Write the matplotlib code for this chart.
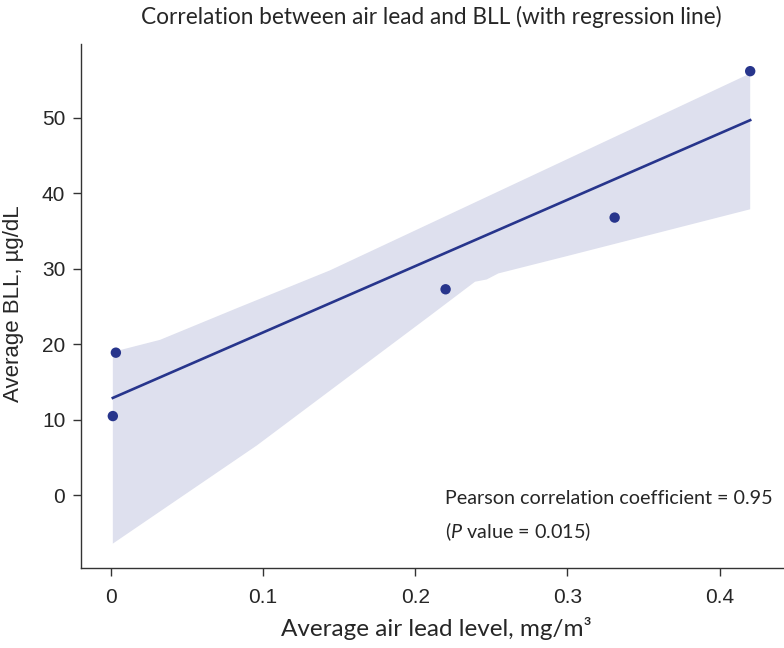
import numpy as np
import matplotlib
matplotlib.use("Agg")
import matplotlib.pyplot as plt

# ================= DATA =================
air_lead = [0.0015, 0.0035, 0.220, 0.331, 0.420]   # mg/m3
bll = [10.5, 18.9, 27.3, 36.8, 56.2]               # ug/dL

# confidence band edges
band_hi_x = [0.0015, 0.0325, 0.083, 0.144, 0.420]
band_hi_y = [19.0, 20.6, 24.8, 29.8, 55.9]
band_lo_x = [0.0015, 0.096, 0.2098, 0.2393, 0.247, 0.2546, 0.3017, 0.420]
band_lo_y = [-6.4, 6.6, 23.8, 28.3, 28.6, 29.4, 31.8, 37.9]

x_ticks = [0, 0.1, 0.2, 0.3, 0.4]
x_tick_labels = ["0", "0.1", "0.2", "0.3", "0.4"]
y_ticks = [0, 10, 20, 30, 40, 50]

# ================= STYLE =================
NAVY = "#27358c"
BAND = "#dee0ee"
TEXT = "#262626"
SPINE = "#333333"
LABEL_FONT = "Lato"
TICK_FONT = "Liberation Sans"

plt.rcParams["mathtext.fontset"] = "custom"
plt.rcParams["mathtext.rm"] = "Lato"
plt.rcParams["mathtext.it"] = "Lato:italic"

fig = plt.figure(figsize=(7.84, 6.48), dpi=100)
ax = fig.add_axes([0.1037, 0.1230, 0.8963, 0.8091])

# band polygon: upper edge left->right, lower edge right->left
poly_x = list(band_hi_x) + list(band_lo_x[::-1])
poly_y = list(band_hi_y) + list(band_lo_y[::-1])
ax.fill(poly_x, poly_y, color=BAND, linewidth=0, zorder=1)

# regression line across the data range
slope, intercept = np.polyfit(air_lead, bll, 1)
xs = np.array([min(air_lead), max(air_lead)])
ax.plot(xs, slope * xs + intercept, color=NAVY, linewidth=1.9, zorder=2)

ax.scatter(air_lead, bll, s=56, color=NAVY, edgecolors="none", zorder=3)

ax.set_xlim(-0.0192, 0.4422)
ax.set_ylim(-9.67, 59.8)

for side in ["top", "right"]:
    ax.spines[side].set_visible(False)
for side in ["left", "bottom"]:
    ax.spines[side].set_color(SPINE)
    ax.spines[side].set_linewidth(1.0)

ax.set_xticks(x_ticks)
ax.set_xticklabels(x_tick_labels)
ax.set_yticks(y_ticks)
ax.tick_params(axis="both", length=5.5, width=1.0, color=SPINE,
               labelsize=15, labelcolor=TEXT)
ax.tick_params(axis="x", pad=9)
ax.tick_params(axis="y", pad=6)
for lbl in ax.get_xticklabels() + ax.get_yticklabels():
    lbl.set_family(TICK_FONT)

fig.text(431 / 784, 1 - 17 / 648,
         "Correlation between air lead and BLL (with regression line)",
         ha="center", va="center", fontsize=16.3, family=LABEL_FONT, color=TEXT)
fig.text(436 / 784, 1 - 629 / 648, "Average air lead level, mg/m³",
         ha="center", va="center", fontsize=17.5, family=LABEL_FONT, color=TEXT)
fig.text(14 / 784, 1 - 304 / 648, "Average BLL, µg/dL", rotation=90,
         ha="center", va="center", fontsize=16, family=TICK_FONT, color=TEXT)

ax.text(0.5176, 0.134, "Pearson correlation coefficient = 0.95",
        transform=ax.transAxes, ha="left", va="center",
        fontsize=14.2, family=LABEL_FONT, color=TEXT)
ax.text(0.5176, 0.0698, "($P$ value = 0.015)",
        transform=ax.transAxes, ha="left", va="center",
        fontsize=14.2, family=LABEL_FONT, color=TEXT)

fig.savefig("out.png", dpi=100)
plt.close(fig)
